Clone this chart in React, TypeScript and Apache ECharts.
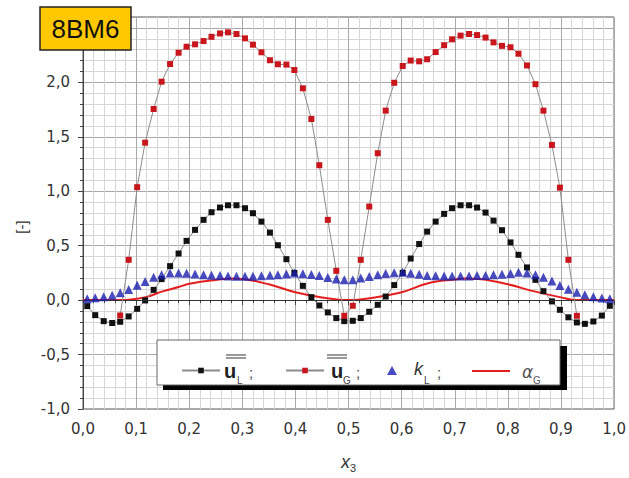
import React, { useEffect, useRef } from "react";
import * as echarts from "echarts";

// sampling positions along x3 (64 cells)
const X_POS = [
  0.008, 0.023, 0.039, 0.055, 0.070, 0.086, 0.102, 0.117, 0.133, 0.148, 0.164, 0.180, 0.195, 0.211, 0.227, 0.242,
  0.258, 0.273, 0.289, 0.305, 0.320, 0.336, 0.352, 0.367, 0.383, 0.398, 0.414, 0.430, 0.445, 0.461, 0.477, 0.492,
  0.508, 0.523, 0.539, 0.555, 0.570, 0.586, 0.602, 0.617, 0.633, 0.648, 0.664, 0.680, 0.695, 0.711, 0.727, 0.742,
  0.758, 0.773, 0.789, 0.805, 0.820, 0.836, 0.852, 0.867, 0.883, 0.898, 0.914, 0.930, 0.945, 0.961, 0.977, 0.992,
];

const U_L = [
  -0.055, -0.138, -0.193, -0.21, -0.199, -0.15, -0.08, -0.003, 0.094, 0.193, 0.312, 0.428, 0.544, 0.645, 0.737, 0.807,
  0.85, 0.871, 0.871, 0.844, 0.798, 0.721, 0.62, 0.504, 0.376, 0.25, 0.131, 0.027, -0.049, -0.113, -0.165, -0.193,
  -0.19, -0.165, -0.107, -0.043, 0.033, 0.138, 0.25, 0.382, 0.515, 0.629, 0.721, 0.792, 0.844, 0.871, 0.871, 0.85,
  0.804, 0.73, 0.642, 0.53, 0.416, 0.3, 0.186, 0.082, -0.012, -0.089, -0.158, -0.205, -0.218, -0.196, -0.142, -0.052,
];

const U_G = [
  null, null, null, null, -0.141, 0.37, 1.037, 1.446, 1.755, 2.006, 2.168, 2.272, 2.327, 2.349, 2.379, 2.418,
  2.449, 2.459, 2.444, 2.404, 2.346, 2.276, 2.203, 2.166, 2.163, 2.113, 1.945, 1.663, 1.239, 0.737, 0.269, -0.144,
  -0.052, 0.37, 0.859, 1.349, 1.74, 1.996, 2.15, 2.2, 2.193, 2.212, 2.278, 2.341, 2.395, 2.429, 2.444, 2.434,
  2.411, 2.367, 2.335, 2.322, 2.263, 2.155, 1.983, 1.74, 1.425, 1.033, 0.37, -0.144, null, null, null, null,
];

const K_L = [
  0.012, 0.022, 0.03, 0.045, 0.068, 0.098, 0.137, 0.172, 0.21, 0.233, 0.25, 0.25, 0.246, 0.24, 0.234, 0.228,
  0.225, 0.222, 0.218, 0.218, 0.22, 0.224, 0.228, 0.234, 0.24, 0.248, 0.243, 0.235, 0.225, 0.208, 0.195, 0.186,
  0.188, 0.203, 0.217, 0.232, 0.244, 0.252, 0.257, 0.247, 0.238, 0.226, 0.223, 0.222, 0.222, 0.222, 0.222, 0.225,
  0.226, 0.232, 0.238, 0.245, 0.255, 0.25, 0.232, 0.21, 0.175, 0.135, 0.1, 0.072, 0.05, 0.03, 0.02, 0.012,
];

const ALPHA_X = [0, 0.05, 0.08, 0.1, 0.12, 0.15, 0.18, 0.2, 0.25, 0.28, 0.3, 0.35, 0.4, 0.45, 0.5, 0.55, 0.6, 0.65, 0.7, 0.72, 0.75, 0.8, 0.85, 0.9, 0.93, 1.0];
const ALPHA_G = [0, 0, 0, 0.012, 0.03, 0.08, 0.12, 0.15, 0.185, 0.198, 0.194, 0.145, 0.072, 0.025, 0, 0.025, 0.072, 0.155, 0.19, 0.198, 0.192, 0.145, 0.08, 0.025, 0, 0];

const Y_TICK_MIN = -1.0;
const Y_TICK_MAX = 2.6;
const Y_HIDDEN_LABEL = 2.5; // covered by the badge in the reference
const X_TITLE = "x";
const X_SUB = "3";
const Y_TITLE = "[-]";
const BADGE = "8BM6";

const AXIS_FONT = "DejaVu Sans";

export default function App() {
  const ref = useRef<HTMLDivElement>(null);

  useEffect(() => {
    if (!ref.current) return;
    const chart = echarts.init(ref.current, undefined, { renderer: "svg" });

    const fmt = (v: number) => v.toFixed(1).replace(".", ",");
    const fmtY = (v: number) => (Math.abs(v - Y_HIDDEN_LABEL) < 1e-6 ? "" : fmt(v));

    const legendBase = {
      orient: "horizontal",
      padding: 0,
      itemGap: 0,
      selectedMode: false,
      formatter: () => "",
      textStyle: { fontSize: 1 },
      z: 20,
    };

    const overbar = (x1: number, x2: number, y: number) => ({
      type: "line",
      shape: { x1, y1: y, x2, y2: y },
      style: { stroke: "#555", lineWidth: 1.2 },
      z: 21,
    });

    const option: any = {
      animation: false,
      backgroundColor: "#fff",
      grid: {
        left: 83,
        right: 13,
        top: 17,
        bottom: 69,
        show: true,
        borderColor: "#555",
        borderWidth: 1,
        backgroundColor: "transparent",
      },
      xAxis: {
        type: "value",
        min: 0,
        max: 1,
        interval: 0.1,
        name: `{i|${X_TITLE}}{s|${X_SUB}}`,
        nameLocation: "middle",
        nameGap: 42,
        nameTextStyle: {
          rich: {
            i: { fontFamily: "Liberation Sans", fontStyle: "italic", fontSize: 18, color: "#333", lineHeight: 22 },
            s: { fontFamily: "Liberation Sans", fontSize: 11, color: "#333", verticalAlign: "bottom" },
          },
        },
        axisLine: { show: true, lineStyle: { color: "#444", width: 1 } },
        axisTick: { show: true, length: 5, lineStyle: { color: "#444" } },
        minorTick: { show: true, splitNumber: 5, length: 3, lineStyle: { color: "#444" } },
        axisLabel: { formatter: fmt, fontFamily: AXIS_FONT, fontSize: 15, color: "#333", margin: 12 },
        splitLine: { show: true, lineStyle: { color: "#a9a9a9", width: 1 } },
        minorSplitLine: { show: true, lineStyle: { color: "#d6d6d6", width: 1 } },
      },
      yAxis: {
        type: "value",
        min: Y_TICK_MIN,
        max: Y_TICK_MAX,
        interval: 0.5,
        name: Y_TITLE,
        nameLocation: "middle",
        nameGap: 54,
        nameTextStyle: { fontFamily: "Liberation Sans", fontSize: 15, color: "#333", padding: [0, 28, 0, 0] },
        axisLine: { show: true, lineStyle: { color: "#444", width: 1 } },
        axisTick: { show: true, length: 5, lineStyle: { color: "#444" } },
        minorTick: { show: true, splitNumber: 5, length: 3, lineStyle: { color: "#444" } },
        axisLabel: { formatter: fmtY, fontFamily: AXIS_FONT, fontSize: 15, color: "#333", margin: 13, showMaxLabel: false },
        splitLine: { show: true, lineStyle: { color: "#a9a9a9", width: 1 } },
        minorSplitLine: { show: true, lineStyle: { color: "#d6d6d6", width: 1 } },
      },
      legend: [
        { ...legendBase, data: ["uL"], left: 181, top: 367, itemWidth: 38, itemHeight: 7 },
        { ...legendBase, data: ["uG"], left: 285, top: 367, itemWidth: 38, itemHeight: 7 },
        { ...legendBase, data: ["kL"], left: 387, top: 366, itemWidth: 10, itemHeight: 9 },
        { ...legendBase, data: ["alphaG"], left: 472, top: 370, itemWidth: 38, itemHeight: 2, icon: "rect" },
      ],
      graphic: [
        // badge
        {
          type: "rect",
          shape: { x: 40, y: 7, width: 91, height: 43 },
          style: { fill: "#ffc800", stroke: "#222", lineWidth: 1.5 },
          z: 30,
        },
        {
          type: "text",
          x: 85.5,
          y: 29,
          style: {
            text: BADGE,
            fontFamily: "Liberation Sans",
            fontSize: 26,
            fill: "#111",
            align: "center",
            verticalAlign: "middle",
          },
          z: 31,
        },
        // legend shadow + box
        {
          type: "rect",
          shape: { x: 163, y: 346, width: 404, height: 44 },
          style: { fill: "#000" },
          z: 10,
        },
        {
          type: "rect",
          shape: { x: 157, y: 340, width: 403, height: 45 },
          style: { fill: "#fff", stroke: "#666", lineWidth: 1 },
          z: 11,
        },
        // legend labels
        overbar(226, 246, 355),
        overbar(226, 246, 358),
        {
          type: "text",
          x: 224,
          y: 371,
          style: { text: "u", fontFamily: "Liberation Sans", fontWeight: "bold", fontSize: 20, fill: "#222", verticalAlign: "middle" },
          z: 21,
        },
        {
          type: "text",
          x: 237,
          y: 380,
          style: { text: "L", fontFamily: "Liberation Sans", fontSize: 10, fill: "#444", verticalAlign: "middle" },
          z: 21,
        },
        {
          type: "text",
          x: 249,
          y: 372,
          style: { text: ";", fontFamily: "Liberation Sans", fontSize: 15, fill: "#444", verticalAlign: "middle" },
          z: 21,
        },
        overbar(327, 347, 355),
        overbar(327, 347, 358),
        {
          type: "text",
          x: 331,
          y: 371,
          style: { text: "u", fontFamily: "Liberation Sans", fontWeight: "bold", fontSize: 20, fill: "#222", verticalAlign: "middle" },
          z: 21,
        },
        {
          type: "text",
          x: 343,
          y: 380,
          style: { text: "G", fontFamily: "Liberation Sans", fontSize: 10, fill: "#444", verticalAlign: "middle" },
          z: 21,
        },
        {
          type: "text",
          x: 356,
          y: 372,
          style: { text: ";", fontFamily: "Liberation Sans", fontSize: 15, fill: "#444", verticalAlign: "middle" },
          z: 21,
        },
        {
          type: "text",
          x: 414,
          y: 369,
          style: { text: "k", fontFamily: "Liberation Sans", fontStyle: "italic", fontSize: 18, fill: "#333", verticalAlign: "middle" },
          z: 21,
        },
        {
          type: "text",
          x: 424,
          y: 380,
          style: { text: "L", fontFamily: "Liberation Sans", fontSize: 10, fill: "#444", verticalAlign: "middle" },
          z: 21,
        },
        {
          type: "text",
          x: 437,
          y: 372,
          style: { text: ";", fontFamily: "Liberation Sans", fontSize: 15, fill: "#444", verticalAlign: "middle" },
          z: 21,
        },
        {
          type: "text",
          x: 522,
          y: 372,
          style: { text: "α", fontFamily: "DejaVu Sans", fontStyle: "italic", fontSize: 17, fill: "#555", verticalAlign: "middle" },
          z: 21,
        },
        {
          type: "text",
          x: 533,
          y: 380,
          style: { text: "G", fontFamily: "Liberation Sans", fontSize: 10, fill: "#555", verticalAlign: "middle" },
          z: 21,
        },
      ],
      series: [
        {
          name: "alphaG",
          type: "line",
          data: ALPHA_X.map((x, i) => [x, ALPHA_G[i]]),
          smooth: 0.4,
          symbol: "none",
          showSymbol: false,
          lineStyle: { color: "#e41e1e", width: 2 },
          itemStyle: { color: "#e41e1e" },
          z: 3,
        },
        {
          name: "uL",
          type: "line",
          data: X_POS.map((x, i) => [x, U_L[i]]),
          symbol: "rect",
          symbolSize: 6,
          showAllSymbol: true,
          itemStyle: { color: "#111" },
          lineStyle: { color: "#8c8c8c", width: 1 },
          z: 4,
          markLine: {
            silent: true,
            symbol: "none",
            label: { show: false },
            lineStyle: { color: "#333", width: 1, type: "solid" },
            data: [{ yAxis: 0 }],
          },
        },
        {
          name: "uG",
          type: "line",
          data: X_POS.map((x, i) => [x, U_G[i]]),
          symbol: "rect",
          symbolSize: 6,
          showAllSymbol: true,
          itemStyle: { color: "#c8161c" },
          lineStyle: { color: "#8c8c8c", width: 1 },
          z: 5,
        },
        {
          name: "kL",
          type: "scatter",
          data: X_POS.map((x, i) => [x, K_L[i]]),
          symbol: "triangle",
          symbolSize: 9,
          itemStyle: { color: "#1a1eae" },
          z: 6,
        },
      ],
    };

    chart.setOption(option);
    return () => chart.dispose();
  }, []);

  return (
    <div
      ref={ref}
      style={{ position: "fixed", left: 0, top: 0, width: 629, height: 478 }}
    />
  );
}
